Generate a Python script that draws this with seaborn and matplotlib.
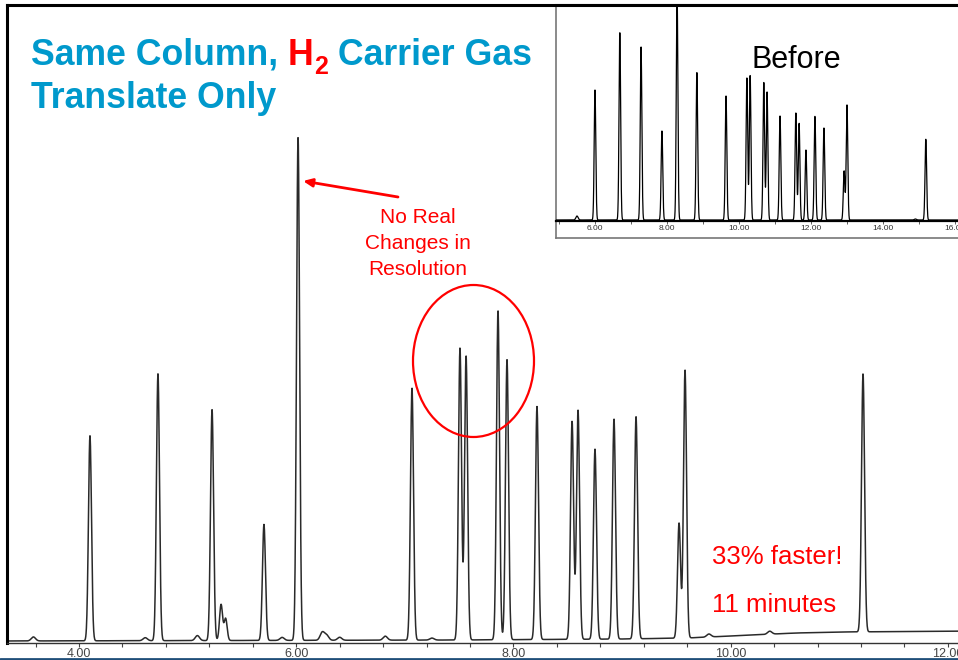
import numpy as np
import pandas as pd
import matplotlib
matplotlib.use("Agg")
import matplotlib.pyplot as plt
import seaborn as sns
from matplotlib.patches import Ellipse

# ---------------- data ----------------
# main chromatogram ("after", H2 carrier) : retention time (min), peak height (a.u.)
main_rt = [3.58, 4.101, 4.61, 4.727, 5.09, 5.225, 5.308, 5.35, 5.703, 5.87, 6.017,
           6.24, 6.28, 6.40, 6.82, 7.066, 7.25, 7.508, 7.564, 7.858, 7.941, 8.217,
           8.540, 8.595, 8.751, 8.926, 9.129, 9.525, 9.580, 9.80, 10.36, 11.219]
main_h = [4, 205, 3, 267, 5, 231, 36, 22, 116, 3, 503,
          8, 5, 3, 4, 252, 2, 292, 284, 329, 280, 233,
          218, 229, 190, 220, 222, 115, 268, 3, 3, 258]
main_base_t = [3.30, 7.5, 9.0, 9.6, 10.0, 10.6, 11.0, 12.3]
main_base_y = [0, 1, 2, 3, 5, 8, 9, 10]
main_ticks_major = [4.0, 6.0, 8.0, 10.0, 12.0]
main_tick_labels = ["4.00", "6.00", "8.00", "10.00", "12.00"]

# inset chromatogram ("Before")
before_rt = [5.50, 6.00, 6.69, 7.28, 7.86, 8.28, 8.83, 9.64, 10.22, 10.31,
             10.69, 10.78, 11.14, 11.58, 11.67, 11.86, 12.11, 12.36, 12.92, 13.00,
             14.90, 15.19]
before_h = [4, 130, 188, 173, 89, 230, 148, 124, 142, 145,
            138, 128, 104, 107, 97, 70, 104, 92, 49, 115,
            1, 81]
before_ticks_major = [6.0, 8.0, 10.0, 12.0, 14.0, 16.0]
before_tick_labels = ["6.00", "8.00", "10.00", "12.00", "14.00", "16.00"]

# ---------------- build traces ----------------
def trace(t, rts, hs, sigma, base_t=None, base_y=None):
    y = np.zeros_like(t)
    for r, h in zip(rts, hs):
        s = sigma if h > 15 else sigma * 1.4
        y += h * np.exp(-0.5 * ((t - r) / s) ** 2)
    if base_t is not None:
        y += np.interp(t, base_t, base_y)
    return y

t_main = np.arange(3.30, 12.30, 0.0015)
df_main = pd.DataFrame({"time": t_main,
                        "signal": trace(t_main, main_rt, main_h, 0.014,
                                        main_base_t, main_base_y)})
t_bef = np.arange(4.9, 16.6, 0.004)
df_bef = pd.DataFrame({"time": t_bef,
                       "signal": trace(t_bef, before_rt, before_h, 0.022)})

# ---------------- figure ----------------
sns.set_theme(style="white")
plt.rcParams["font.family"] = ["Liberation Sans", "DejaVu Sans"]

W, H = 958, 660
fig = plt.figure(figsize=(9.58, 6.60), dpi=100)

def fx(px):
    return px / W

def fy(py):
    return 1 - py / H

# main axes
ax = fig.add_axes([fx(7), fy(643), fx(975 - 7), (643 - 5) / H])
sns.lineplot(data=df_main, x="time", y="signal", ax=ax, color="#2a2a2a",
             linewidth=1.1, estimator=None, errorbar=None)
ax.set_xlim(3.337, 12.25)
ax.set_ylim(-2, 636)
ax.set_xlabel("")
ax.set_ylabel("")
ax.set_yticks([])
ax.set_xticks(main_ticks_major)
ax.set_xticklabels(main_tick_labels)
ax.set_xticks(np.arange(3.6, 12.3, 0.4), minor=True)
ax.tick_params(axis="x", which="both", direction="out", length=3, width=0.8,
               color="#444444", bottom=True, pad=0.5)
ax.tick_params(axis="x", which="major", labelsize=9, labelcolor="#444444")
for side in ["left", "top"]:
    ax.spines[side].set_color("black")
    ax.spines[side].set_linewidth(2.2)
ax.spines["bottom"].set_color("#333333")
ax.spines["bottom"].set_linewidth(1.0)
ax.spines["right"].set_visible(False)

# inset box
box = fig.add_axes([fx(556), fy(238), fx(975 - 556), (238 - 5) / H])
box.set_xticks([])
box.set_yticks([])
box.set_facecolor("white")
for s in box.spines.values():
    s.set_color("#777777")
    s.set_linewidth(1.2)
box.spines["top"].set_color("black")
box.spines["top"].set_linewidth(2.2)

# inset chromatogram
ins = fig.add_axes([fx(556), fy(221), fx(975 - 556), (221 - 6) / H])
ins.patch.set_alpha(0)
sns.lineplot(data=df_bef, x="time", y="signal", ax=ins, color="black",
             linewidth=0.9, estimator=None, errorbar=None)
ins.set_xlim(4.917, 16.556)
ins.set_ylim(-1, 214)
ins.set_xlabel("")
ins.set_ylabel("")
ins.set_yticks([])
ins.set_xticks(before_ticks_major)
ins.set_xticklabels(before_tick_labels)
ins.set_xticks(np.arange(5.0, 16.6, 1.0), minor=True)
ins.tick_params(axis="x", which="both", direction="out", length=2, width=0.6,
                color="#444444", bottom=True, pad=1)
ins.tick_params(axis="x", which="major", labelsize=6, labelcolor="#333333")
for side in ["left", "top", "right"]:
    ins.spines[side].set_visible(False)
ins.spines["bottom"].set_color("black")
ins.spines["bottom"].set_linewidth(1.6)

fig.text(fx(751), fy(68), "Before", fontsize=22, color="black", va="baseline",
         ha="left")

# ---------------- title ----------------
blue = "#0099CC"
red = "#FF0000"
fs = 25.7
fig.canvas.draw()
r = fig.canvas.get_renderer()
x0 = fx(31)
t1 = fig.text(x0, fy(65), "Same Column, ", fontsize=fs, fontweight="bold",
              color=blue, va="baseline")
bb = t1.get_window_extent(renderer=r)
t2 = fig.text(bb.x1 / W, fy(65), "H", fontsize=fs, fontweight="bold",
              color=red, va="baseline")
bb = t2.get_window_extent(renderer=r)
t3 = fig.text(bb.x1 / W, fy(74), "2", fontsize=18, fontweight="bold",
              color=red, va="baseline")
bb = t3.get_window_extent(renderer=r)
fig.text(bb.x1 / W, fy(65), " Carrier Gas", fontsize=fs, fontweight="bold",
         color=blue, va="baseline")
fig.text(x0, fy(108), "Translate Only", fontsize=fs, fontweight="bold",
         color=blue, va="baseline")

# ---------------- annotations ----------------
for line, base in zip(["No Real", "Changes in", "Resolution"], [223, 249, 275]):
    fig.text(fx(418), fy(base), line, fontsize=15, color=red, ha="center",
             va="baseline")
ax.annotate("", xy=(fx(303), fy(181)), xycoords="figure fraction",
            xytext=(fx(398), fy(197)), textcoords="figure fraction",
            arrowprops=dict(arrowstyle="-|>,head_length=0.45,head_width=0.2",
                            color=red, lw=2.0, shrinkA=0, shrinkB=0))
ell = Ellipse((fx(473.5), fy(361)), width=fx(121), height=152 / H,
              transform=fig.transFigure, fill=False, edgecolor=red, lw=1.6)
fig.add_artist(ell)

fig.text(fx(712), fy(564), "33% faster!", fontsize=18.5, color=red,
         va="baseline")
fig.text(fx(712), fy(612), "11 minutes", fontsize=18.5, color=red,
         va="baseline")

# slide edge line at the bottom
fig.add_artist(plt.Line2D([0, 1], [fy(658.5), fy(658.5)],
                          transform=fig.transFigure, color="#1f4e79", lw=2))

fig.savefig("out.png", dpi=100)
